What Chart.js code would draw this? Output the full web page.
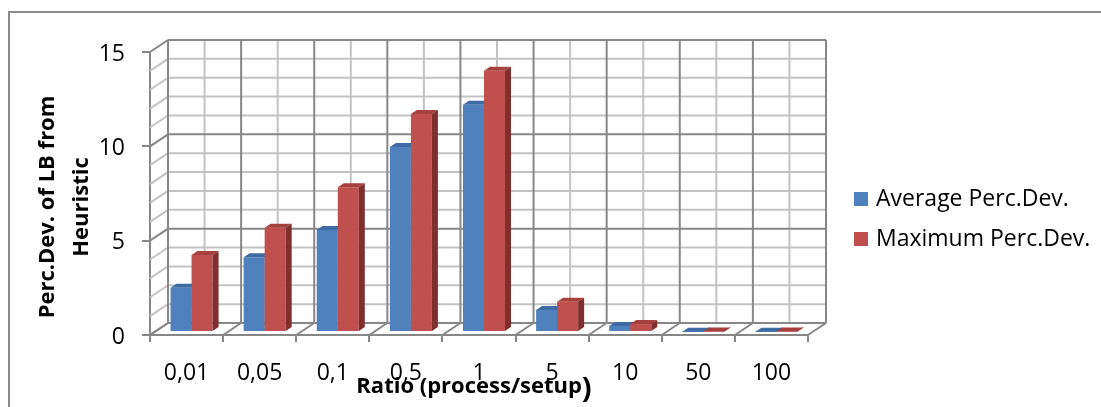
<!DOCTYPE html>
<html>
<head>
<meta charset="utf-8">
<script src="https://cdn.jsdelivr.net/npm/chart.js@4.4.0/dist/chart.umd.min.js"></script>
<style>
  html, body { margin: 0; padding: 0; background: #fff; overflow: hidden; }
  #wrap { position: relative; width: 1101px; height: 407px; }
</style>
</head>
<body>
<div id="wrap"><canvas id="c" width="1101" height="407"></canvas></div>
<script>
// Ratio categories and the two deviation series
const categories = ['0,01', '0,05', '0,1', '0,5', '1', '5', '10', '50', '100'];
const averageDev = [2.35, 3.96, 5.40, 9.80, 12.05, 1.17, 0.32, 0.01, 0.01];
const maximumDev = [4.08, 5.53, 7.67, 11.55, 13.85, 1.60, 0.42, 0.02, 0.02];
const seriesNames = ['Average Perc.Dev.', 'Maximum Perc.Dev.'];
const yTicks = [0, 5, 10, 15];
const yTitleLines = ['Perc.Dev. of LB from', 'Heuristic'];
const xTitle = 'Ratio (process/setup';
const xTitleClose = ')';

const FONT = '"Open Sans", Lato, sans-serif';
const FRONT = ['#4F81BD', '#C0504D'];
const TOP   = ['#3E6BA3', '#A6403D'];
const SIDE  = ['#35598A', '#7F302E'];
const DARK  = '#878787';
const LIGHT = '#C3C3C3';

// oblique 3D offsets: back wall, bar placement in depth, bar thickness
const WALL = { dx: 18, dy: -12 };
const SHIFT = { dx: 5, dy: -3 };
const DEPTH = { dx: 6, dy: -4 };

function line(ctx, x1, y1, x2, y2) {
  ctx.beginPath(); ctx.moveTo(x1, y1); ctx.lineTo(x2, y2); ctx.stroke();
}

function drawWalls(chart) {
  const ctx = chart.ctx;
  const xs = chart.scales.x, ys = chart.scales.y;
  const a = chart.chartArea;
  const n = categories.length;
  const step = (a.right - a.left) / n;
  ctx.save();
  ctx.lineWidth = 2;
  // minor lines
  ctx.strokeStyle = LIGHT;
  for (let v = 0; v <= 15; v++) {
    if (v % 5 === 0) continue;
    const y = ys.getPixelForValue(v);
    line(ctx, a.left, y, a.left + WALL.dx, y + WALL.dy);
    line(ctx, a.left + WALL.dx, y + WALL.dy, a.right + WALL.dx, y + WALL.dy);
  }
  for (let i = 0; i < n; i++) {
    const x = xs.getPixelForValue(i) + WALL.dx;
    line(ctx, x, a.top + WALL.dy, x, a.bottom + WALL.dy);
  }
  // major lines
  ctx.strokeStyle = DARK;
  for (const v of yTicks) {
    const y = ys.getPixelForValue(v);
    line(ctx, a.left, y, a.left + WALL.dx, y + WALL.dy);
    line(ctx, a.left + WALL.dx, y + WALL.dy, a.right + WALL.dx, y + WALL.dy);
  }
  for (let i = 0; i <= n; i++) {
    const x = a.left + i * step;
    line(ctx, x + WALL.dx, a.top + WALL.dy, x + WALL.dx, a.bottom + WALL.dy);
    line(ctx, x, a.bottom, x + WALL.dx, a.bottom + WALL.dy);
  }
  ctx.restore();
}

function drawBars3D(chart) {
  const ctx = chart.ctx;
  const metas = chart.data.datasets.map((d, i) => chart.getDatasetMeta(i));
  ctx.save();
  ctx.translate(SHIFT.dx, SHIFT.dy);
  for (let j = 0; j < categories.length; j++) {
    metas.forEach((meta, i) => {
      const bar = meta.data[j];
      const { x, y, base, width } = bar.getProps(['x', 'y', 'base', 'width'], true);
      const l = x - width / 2, r = x + width / 2;
      bar.draw(ctx);
      ctx.fillStyle = TOP[i];
      ctx.beginPath();
      ctx.moveTo(l, y); ctx.lineTo(l + DEPTH.dx, y + DEPTH.dy);
      ctx.lineTo(r + DEPTH.dx, y + DEPTH.dy); ctx.lineTo(r, y);
      ctx.closePath(); ctx.fill();
      ctx.fillStyle = SIDE[i];
      ctx.beginPath();
      ctx.moveTo(r, y); ctx.lineTo(r + DEPTH.dx, y + DEPTH.dy);
      ctx.lineTo(r + DEPTH.dx, base + DEPTH.dy); ctx.lineTo(r, base);
      ctx.closePath(); ctx.fill();
    });
  }
  ctx.restore();
}

const chart3d = {
  id: 'chart3d',
  beforeDraw(chart) {
    const ctx = chart.ctx;
    ctx.save();
    ctx.fillStyle = '#fff';
    ctx.fillRect(0, 0, chart.width, chart.height);
    ctx.strokeStyle = '#8A8A8A';
    ctx.lineWidth = 2;
    ctx.strokeRect(9, 12, chart.width + 20, chart.height + 20);
    ctx.restore();
  },
  beforeDatasetsDraw(chart) {
    drawWalls(chart);
    drawBars3D(chart);
    return false;
  },
  afterDraw(chart) {
    const ctx = chart.ctx;
    ctx.save();
    ctx.fillStyle = '#000';
    // value axis title, two rotated lines
    ctx.font = 'bold 22px ' + FONT;
    ctx.textAlign = 'center';
    ctx.textBaseline = 'alphabetic';
    const baselines = [54, 88];
    yTitleLines.forEach((t, k) => {
      ctx.save();
      ctx.translate(baselines[k], 207);
      ctx.rotate(-Math.PI / 2);
      ctx.fillText(t, 0, 0);
      ctx.restore();
    });
    // category axis title
    ctx.textAlign = 'left';
    ctx.font = 'bold 22px ' + FONT;
    const w1 = ctx.measureText(xTitle).width;
    ctx.font = 'bold 29px ' + FONT;
    const w2 = ctx.measureText(xTitleClose).width;
    const x0 = 474 - (w1 + w2) / 2;
    ctx.font = 'bold 22px ' + FONT;
    ctx.fillText(xTitle, x0, 393);
    ctx.font = 'bold 29px ' + FONT;
    ctx.fillText(xTitleClose, x0 + w1, 398);
    // legend
    ctx.font = '23px ' + FONT;
    seriesNames.forEach((name, k) => {
      const y = 192 + k * 40;
      ctx.fillStyle = FRONT[k];
      ctx.fillRect(854, y, 14, 14);
      ctx.fillStyle = '#000';
      ctx.fillText(name, 876, y + 14);
    });
    ctx.restore();
  }
};

new Chart(document.getElementById('c'), {
  type: 'bar',
  data: {
    labels: categories,
    datasets: [
      { label: seriesNames[0], data: averageDev, backgroundColor: FRONT[0], borderWidth: 0,
        categoryPercentage: 0.575, barPercentage: 1 },
      { label: seriesNames[1], data: maximumDev, backgroundColor: FRONT[1], borderWidth: 0,
        categoryPercentage: 0.575, barPercentage: 1 }
    ]
  },
  options: {
    responsive: false,
    animation: false,
    devicePixelRatio: 1,
    layout: { padding: { top: 52, right: 293, left: 0, bottom: 0 } },
    plugins: { legend: { display: false }, tooltip: { enabled: false } },
    scales: {
      x: {
        offset: true,
        grid: { offset: true, drawOnChartArea: false, tickLength: 7, color: DARK, lineWidth: 2 },
        border: { display: true, color: DARK, width: 2 },
        ticks: { font: { family: FONT, size: 23 }, color: '#000', padding: 18, maxRotation: 0, autoSkip: false },
        afterFit(s) { s.height = 72; }
      },
      y: {
        min: 0, max: 15,
        afterBuildTicks(s) { s.ticks = yTicks.map(v => ({ value: v })); },
        grid: { drawOnChartArea: false, tickLength: 8, color: DARK, lineWidth: 2 },
        border: { display: true, color: DARK, width: 2 },
        ticks: { font: { family: FONT, size: 23 }, color: '#000', padding: 17, labelOffset: 2 },
        afterFit(s) { s.width = 150; }
      }
    }
  },
  plugins: [chart3d]
});
</script>
</body>
</html>
